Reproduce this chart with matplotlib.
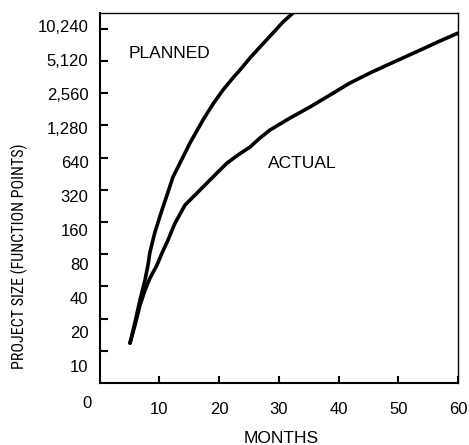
import matplotlib
matplotlib.use("Agg")
import matplotlib.pyplot as plt
from matplotlib.ticker import FixedLocator, FixedFormatter, NullLocator

# ---- data ----
planned_months = [5.10, 5.94, 6.77, 7.61, 8.11, 8.44, 9.28, 10.45, 11.29,
                  12.29, 13.46, 15.13, 17.31, 18.98, 20.65, 22.16, 23.49,
                  25.17, 26.84, 29.01, 30.69, 32.36, 33.53]
planned_size = [11.8, 18.5, 29.8, 45.8, 63.3, 83.7, 129, 207, 285,
                421, 568, 874, 1435, 2024, 2737, 3468, 4209,
                5450, 6907, 9335, 11830, 14360, 16340]

actual_months = [5.10, 5.94, 6.77, 7.61, 8.44, 9.62, 10.45, 11.45, 12.63,
                 14.30, 16.81, 17.98, 19.65, 21.32, 23.16, 25.17, 26.84,
                 28.51, 31.86, 35.20, 38.55, 41.89, 45.23, 47.41, 51.09,
                 54.77, 56.94, 60.0]
actual_size = [11.8, 17.4, 26.7, 36.9, 47.8, 63.3, 81.9, 108, 156,
               230, 318, 370, 459, 568, 676, 802, 974,
               1157, 1498, 1898, 2457, 3183, 3946, 4491, 5568,
               6907, 7858, 9335]

y_ticks = [10, 20, 40, 80, 160, 320, 640, 1280, 2560, 5120, 10240]
y_tick_labels = ["10", "20", "40", "80", "160", "320", "640", "1,280",
                 "2,560", "5,120", "10,240"]
x_ticks = [10, 20, 30, 40, 50, 60]
x_tick_labels = ["10", "20", "30", "40", "50", "60"]

FONT = ["Liberation Sans", "DejaVu Sans"]
NARROW = ["Roboto Condensed", "Liberation Sans", "DejaVu Sans"]
plt.rcParams["font.family"] = FONT

fig = plt.figure(figsize=(4.69, 4.45), dpi=100)
ax = fig.add_axes([0.2122, 0.1393, 0.7644, 0.8322])

ax.plot(planned_months, planned_size, color="black", lw=2.6,
        solid_capstyle="round", solid_joinstyle="round")
ax.plot(actual_months, actual_size, color="black", lw=2.6,
        solid_capstyle="round", solid_joinstyle="round")

ax.set_yscale("log", base=2)
ax.set_ylim(5.0, 14480)
ax.set_xlim(0, 60)

# main axis: tick marks only on y
ax.yaxis.set_major_locator(FixedLocator(y_ticks))
ax.yaxis.set_minor_locator(NullLocator())
ax.tick_params(axis="y", which="major", direction="in", length=5.8,
               width=1.5, labelleft=False, left=True, right=False)
ax.set_xticks(x_ticks)
ax.set_xticklabels(x_tick_labels)
ax.tick_params(axis="x", direction="in", length=5, width=1.5, pad=14,
               labelsize=12, top=False)

# y tick labels (slightly differently spaced in the reference)
ax2 = ax.twinx()
ax2.set_yscale("log", base=2)
ax2.set_ylim(7.07, 13430)
ax2.yaxis.set_major_locator(FixedLocator(y_ticks))
ax2.yaxis.set_major_formatter(FixedFormatter(y_tick_labels))
ax2.yaxis.set_minor_locator(NullLocator())
ax2.yaxis.set_ticks_position("left")
ax2.yaxis.set_label_position("left")
ax2.tick_params(axis="y", length=0, pad=8, labelsize=12,
                labelleft=True, labelright=False)
for s in ax2.spines.values():
    s.set_visible(False)

for side in ("left", "bottom"):
    ax.spines[side].set_linewidth(1.5)
for side in ("top", "right"):
    ax.spines[side].set_linewidth(1.0)

ax.text(4.82, 5980, "PLANNED", fontsize=12.5, ha="left", va="center")
ax.text(28.23, 560, "ACTUAL", fontsize=12.5, ha="left", va="center")
ax.text(-0.0357, -0.054, "0", transform=ax.transAxes, fontsize=12,
        ha="center", va="center")

ax.set_xlabel("MONTHS", fontsize=12.5, va="center")
ax.xaxis.set_label_coords(0.506, -0.1485)
ax.set_ylabel("PROJECT SIZE (FUNCTION POINTS)", fontsize=11.5,
              family=NARROW, va="center")
ax.yaxis.set_label_coords(-0.2226, 0.3435)

fig.savefig("out.png", dpi=100)
